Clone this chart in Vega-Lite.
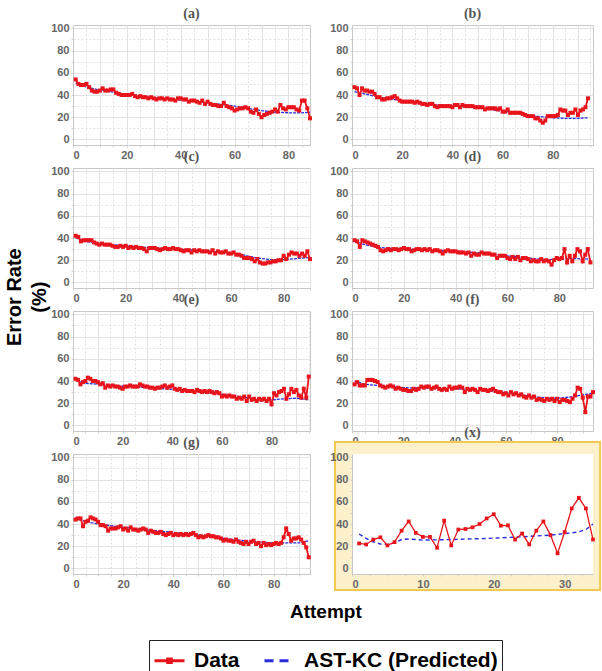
{
"$schema": "https://vega.github.io/schema/vega-lite/v6.json",
"background": "white",
"padding": {"left": 5, "top": 6, "right": 0, "bottom": 0},
"title": {"text": ["Error Rate", "(%)"], "orient": "left", "anchor": "middle", "dx": 44, "font": "Liberation Sans", "fontSize": 20, "fontWeight": "bold", "color": "black", "lineHeight": 25, "offset": 0},
"vconcat": [{
"title": {"text": "Attempt", "orient": "bottom", "anchor": "middle", "font": "Liberation Sans", "fontSize": 19, "fontWeight": "bold", "color": "black", "offset": 11},
"columns": 2,
"bounds": "flush",
"spacing": {"row": 23, "column": 42},
"concat": [
{"title": "(a)", "width": 237, "height": 120, "layer": [
 {"data": {"name": "a_pred"}, "mark": {"type": "line", "strokeWidth": 1.3, "strokeDash": [3, 1]},
  "encoding": {
   "x": {"field": "attempt", "type": "quantitative", "scale": {"domain": [0, 88], "nice": false, "zero": false}, "axis": {"title": null, "tickCount": 100, "values": [0,5,10,15,20,25,30,35,40,45,50,55,60,65,70,75,80,85], "labelExpr": "datum.value % 20 === 0 ? datum.label : ''", "gridDash": {"condition": {"test": "datum.value % 10 !== 0", "value": [2, 2]}, "value": []}}},
   "y": {"field": "rate", "type": "quantitative", "scale": {"domain": [-5, 103], "nice": false, "zero": false}, "axis": {"title": null, "tickCount": 100, "values": [0,10,20,30,40,50,60,70,80,90,100], "labelExpr": "datum.value % 20 === 0 ? datum.label : ''", "gridDash": {"condition": {"test": "datum.value % 20 !== 0", "value": [2, 2]}, "value": []}}},
   "color": {"datum": "AST-KC (Predicted)", "scale": {"domain": ["Data", "AST-KC (Predicted)"], "range": ["#e8141c", "#2b2bdb"]},
    "legend": {"title": null, "orient": "bottom", "direction": "horizontal", "strokeColor": "#222", "padding": 4, "offset": 18, "labelFont": "Liberation Sans", "labelFontSize": 21, "labelFontWeight": "bold", "labelColor": "black", "labelLimit": 400, "symbolType": "stroke", "symbolSize": 900, "symbolStrokeWidth": 3, "columnPadding": 18, "labelOffset": 8,
     "encode": {"symbols": {"update": {"shape": {"signal": "datum.value === 'Data' ? 'M-1,0H1M-0.12,-0.12H0.12V0.12H-0.12Z' : 'stroke'"}, "fill": {"signal": "datum.value === 'Data' ? '#e8141c' : 'transparent'"}, "strokeDash": {"signal": "datum.value === 'Data' ? [] : [9, 6]"}}}}}}}},
 {"data": {"name": "a_data"}, "mark": {"type": "line", "strokeWidth": 1.8, "point": {"shape": "square", "size": 16, "filled": true}},
  "encoding": {"x": {"field": "attempt", "type": "quantitative"}, "y": {"field": "rate", "type": "quantitative"}, "color": {"datum": "Data", "scale": {"domain": ["Data", "AST-KC (Predicted)"], "range": ["#e8141c", "#2b2bdb"]}}}}
]},
{"title": "(b)", "width": 241, "height": 120, "layer": [
 {"data": {"name": "b_pred"}, "mark": {"type": "line", "strokeWidth": 1.3, "strokeDash": [3, 1]},
  "encoding": {
   "x": {"field": "attempt", "type": "quantitative", "scale": {"domain": [0, 96], "nice": false, "zero": false}, "axis": {"title": null, "tickCount": 100, "values": [0,5,10,15,20,25,30,35,40,45,50,55,60,65,70,75,80,85,90,95], "labelExpr": "datum.value % 20 === 0 ? datum.label : ''", "gridDash": {"condition": {"test": "datum.value % 10 !== 0", "value": [2, 2]}, "value": []}}},
   "y": {"field": "rate", "type": "quantitative", "scale": {"domain": [-5, 103], "nice": false, "zero": false}, "axis": {"title": null, "tickCount": 100, "values": [0,10,20,30,40,50,60,70,80,90,100], "labelExpr": "datum.value % 20 === 0 ? datum.label : ''", "gridDash": {"condition": {"test": "datum.value % 20 !== 0", "value": [2, 2]}, "value": []}}},
   "color": {"datum": "AST-KC (Predicted)", "scale": {"domain": ["Data", "AST-KC (Predicted)"], "range": ["#e8141c", "#2b2bdb"]}}}},
 {"data": {"name": "b_data"}, "mark": {"type": "line", "strokeWidth": 1.8, "point": {"shape": "square", "size": 16, "filled": true}},
  "encoding": {"x": {"field": "attempt", "type": "quantitative"}, "y": {"field": "rate", "type": "quantitative"}, "color": {"datum": "Data", "scale": {"domain": ["Data", "AST-KC (Predicted)"], "range": ["#e8141c", "#2b2bdb"]}}}}
]},
{"title": "(c)", "width": 237, "height": 120, "layer": [
 {"data": {"name": "c_pred"}, "mark": {"type": "line", "strokeWidth": 1.3, "strokeDash": [3, 1]},
  "encoding": {
   "x": {"field": "attempt", "type": "quantitative", "scale": {"domain": [0, 90], "nice": false, "zero": false}, "axis": {"title": null, "tickCount": 100, "values": [0,5,10,15,20,25,30,35,40,45,50,55,60,65,70,75,80,85,90], "labelExpr": "datum.value % 20 === 0 ? datum.label : ''", "gridDash": {"condition": {"test": "datum.value % 10 !== 0", "value": [2, 2]}, "value": []}}},
   "y": {"field": "rate", "type": "quantitative", "scale": {"domain": [-5, 103], "nice": false, "zero": false}, "axis": {"title": null, "tickCount": 100, "values": [0,10,20,30,40,50,60,70,80,90,100], "labelExpr": "datum.value % 20 === 0 ? datum.label : ''", "gridDash": {"condition": {"test": "datum.value % 20 !== 0", "value": [2, 2]}, "value": []}}},
   "color": {"datum": "AST-KC (Predicted)", "scale": {"domain": ["Data", "AST-KC (Predicted)"], "range": ["#e8141c", "#2b2bdb"]}}}},
 {"data": {"name": "c_data"}, "mark": {"type": "line", "strokeWidth": 1.8, "point": {"shape": "square", "size": 16, "filled": true}},
  "encoding": {"x": {"field": "attempt", "type": "quantitative"}, "y": {"field": "rate", "type": "quantitative"}, "color": {"datum": "Data", "scale": {"domain": ["Data", "AST-KC (Predicted)"], "range": ["#e8141c", "#2b2bdb"]}}}}
]},
{"title": "(d)", "width": 241, "height": 120, "layer": [
 {"data": {"name": "d_pred"}, "mark": {"type": "line", "strokeWidth": 1.3, "strokeDash": [3, 1]},
  "encoding": {
   "x": {"field": "attempt", "type": "quantitative", "scale": {"domain": [0, 93], "nice": false, "zero": false}, "axis": {"title": null, "tickCount": 100, "values": [0,5,10,15,20,25,30,35,40,45,50,55,60,65,70,75,80,85,90], "labelExpr": "datum.value % 20 === 0 ? datum.label : ''", "gridDash": {"condition": {"test": "datum.value % 10 !== 0", "value": [2, 2]}, "value": []}}},
   "y": {"field": "rate", "type": "quantitative", "scale": {"domain": [-5, 103], "nice": false, "zero": false}, "axis": {"title": null, "tickCount": 100, "values": [0,10,20,30,40,50,60,70,80,90,100], "labelExpr": "datum.value % 20 === 0 ? datum.label : ''", "gridDash": {"condition": {"test": "datum.value % 20 !== 0", "value": [2, 2]}, "value": []}}},
   "color": {"datum": "AST-KC (Predicted)", "scale": {"domain": ["Data", "AST-KC (Predicted)"], "range": ["#e8141c", "#2b2bdb"]}}}},
 {"data": {"name": "d_data"}, "mark": {"type": "line", "strokeWidth": 1.8, "point": {"shape": "square", "size": 16, "filled": true}},
  "encoding": {"x": {"field": "attempt", "type": "quantitative"}, "y": {"field": "rate", "type": "quantitative"}, "color": {"datum": "Data", "scale": {"domain": ["Data", "AST-KC (Predicted)"], "range": ["#e8141c", "#2b2bdb"]}}}}
]},
{"title": "(e)", "width": 237, "height": 120, "layer": [
 {"data": {"name": "e_pred"}, "mark": {"type": "line", "strokeWidth": 1.3, "strokeDash": [3, 1]},
  "encoding": {
   "x": {"field": "attempt", "type": "quantitative", "scale": {"domain": [0, 95.5], "nice": false, "zero": false}, "axis": {"title": null, "tickCount": 100, "values": [0,5,10,15,20,25,30,35,40,45,50,55,60,65,70,75,80,85,90,95], "labelExpr": "datum.value % 20 === 0 ? datum.label : ''", "gridDash": {"condition": {"test": "datum.value % 10 !== 0", "value": [2, 2]}, "value": []}}},
   "y": {"field": "rate", "type": "quantitative", "scale": {"domain": [-5, 103], "nice": false, "zero": false}, "axis": {"title": null, "tickCount": 100, "values": [0,10,20,30,40,50,60,70,80,90,100], "labelExpr": "datum.value % 20 === 0 ? datum.label : ''", "gridDash": {"condition": {"test": "datum.value % 20 !== 0", "value": [2, 2]}, "value": []}}},
   "color": {"datum": "AST-KC (Predicted)", "scale": {"domain": ["Data", "AST-KC (Predicted)"], "range": ["#e8141c", "#2b2bdb"]}}}},
 {"data": {"name": "e_data"}, "mark": {"type": "line", "strokeWidth": 1.8, "point": {"shape": "square", "size": 16, "filled": true}},
  "encoding": {"x": {"field": "attempt", "type": "quantitative"}, "y": {"field": "rate", "type": "quantitative"}, "color": {"datum": "Data", "scale": {"domain": ["Data", "AST-KC (Predicted)"], "range": ["#e8141c", "#2b2bdb"]}}}}
]},
{"title": "(f)", "width": 241, "height": 120, "layer": [
 {"data": {"name": "f_pred"}, "mark": {"type": "line", "strokeWidth": 1.3, "strokeDash": [3, 1]},
  "encoding": {
   "x": {"field": "attempt", "type": "quantitative", "scale": {"domain": [0, 94], "nice": false, "zero": false}, "axis": {"title": null, "tickCount": 100, "values": [0,5,10,15,20,25,30,35,40,45,50,55,60,65,70,75,80,85,90], "labelExpr": "datum.value % 20 === 0 ? datum.label : ''", "gridDash": {"condition": {"test": "datum.value % 10 !== 0", "value": [2, 2]}, "value": []}}},
   "y": {"field": "rate", "type": "quantitative", "scale": {"domain": [-5, 103], "nice": false, "zero": false}, "axis": {"title": null, "tickCount": 100, "values": [0,10,20,30,40,50,60,70,80,90,100], "labelExpr": "datum.value % 20 === 0 ? datum.label : ''", "gridDash": {"condition": {"test": "datum.value % 20 !== 0", "value": [2, 2]}, "value": []}}},
   "color": {"datum": "AST-KC (Predicted)", "scale": {"domain": ["Data", "AST-KC (Predicted)"], "range": ["#e8141c", "#2b2bdb"]}}}},
 {"data": {"name": "f_data"}, "mark": {"type": "line", "strokeWidth": 1.8, "point": {"shape": "square", "size": 16, "filled": true}},
  "encoding": {"x": {"field": "attempt", "type": "quantitative"}, "y": {"field": "rate", "type": "quantitative"}, "color": {"datum": "Data", "scale": {"domain": ["Data", "AST-KC (Predicted)"], "range": ["#e8141c", "#2b2bdb"]}}}}
]},
{"title": "(g)", "width": 237, "height": 120, "layer": [
 {"data": {"name": "g_pred"}, "mark": {"type": "line", "strokeWidth": 1.3, "strokeDash": [3, 1]},
  "encoding": {
   "x": {"field": "attempt", "type": "quantitative", "scale": {"domain": [0, 94.5], "nice": false, "zero": false}, "axis": {"title": null, "tickCount": 100, "values": [0,5,10,15,20,25,30,35,40,45,50,55,60,65,70,75,80,85,90], "labelExpr": "datum.value % 20 === 0 ? datum.label : ''", "gridDash": {"condition": {"test": "datum.value % 10 !== 0", "value": [2, 2]}, "value": []}}},
   "y": {"field": "rate", "type": "quantitative", "scale": {"domain": [-5, 103], "nice": false, "zero": false}, "axis": {"title": null, "tickCount": 100, "values": [0,10,20,30,40,50,60,70,80,90,100], "labelExpr": "datum.value % 20 === 0 ? datum.label : ''", "gridDash": {"condition": {"test": "datum.value % 20 !== 0", "value": [2, 2]}, "value": []}}},
   "color": {"datum": "AST-KC (Predicted)", "scale": {"domain": ["Data", "AST-KC (Predicted)"], "range": ["#e8141c", "#2b2bdb"]}}}},
 {"data": {"name": "g_data"}, "mark": {"type": "line", "strokeWidth": 1.8, "point": {"shape": "square", "size": 16, "filled": true}},
  "encoding": {"x": {"field": "attempt", "type": "quantitative"}, "y": {"field": "rate", "type": "quantitative"}, "color": {"datum": "Data", "scale": {"domain": ["Data", "AST-KC (Predicted)"], "range": ["#e8141c", "#2b2bdb"]}}}}
]},
{"title": "(x)", "width": 241, "height": 120, "layer": [
 {"data": {"values": [{}]}, "mark": {"type": "rect", "fill": "#fdf1cd", "stroke": "#f3c94f", "strokeWidth": 2},
  "encoding": {
   "x": {"datum": -2.4, "type": "quantitative", "scale": {"domain": [0, 34], "nice": false, "zero": false}, "axis": {"title": null, "zindex": 1, "tickCount": 100, "format": "d", "values": [0,2.5,5,7.5,10,12.5,15,17.5,20,22.5,25,27.5,30,32.5], "labelExpr": "datum.value % 10 === 0 ? datum.label : ''", "gridDash": {"condition": {"test": "datum.value % 5 !== 0", "value": [2, 2]}, "value": []}}},
   "x2": {"datum": 35},
   "y": {"datum": -19.4, "type": "quantitative", "scale": {"domain": [-5, 103], "nice": false, "zero": false}, "axis": {"title": null, "zindex": 1, "tickCount": 100, "values": [0,10,20,30,40,50,60,70,80,90,100], "labelExpr": "datum.value % 20 === 0 ? datum.label : ''", "gridDash": {"condition": {"test": "datum.value % 20 !== 0", "value": [2, 2]}, "value": []}}},
   "y2": {"datum": 113.8}}},
 {"data": {"values": [{}]}, "mark": {"type": "rect", "fill": "white"},
  "encoding": {"x": {"datum": 0, "type": "quantitative"}, "x2": {"datum": 34}, "y": {"datum": -5, "type": "quantitative"}, "y2": {"datum": 103}}},
 {"data": {"name": "x_pred"}, "mark": {"type": "line", "strokeWidth": 1.4, "strokeDash": [4, 3]},
  "encoding": {"x": {"field": "attempt", "type": "quantitative"}, "y": {"field": "rate", "type": "quantitative"}, "color": {"datum": "AST-KC (Predicted)", "scale": {"domain": ["Data", "AST-KC (Predicted)"], "range": ["#e8141c", "#2b2bdb"]}}}},
 {"data": {"name": "x_data"}, "mark": {"type": "line", "strokeWidth": 1.3, "point": {"shape": "square", "size": 14, "filled": true}},
  "encoding": {"x": {"field": "attempt", "type": "quantitative"}, "y": {"field": "rate", "type": "quantitative"}, "color": {"datum": "Data", "scale": {"domain": ["Data", "AST-KC (Predicted)"], "range": ["#e8141c", "#2b2bdb"]}}}}
]}
]
}],
"datasets": {
"a_data": [{"attempt":1,"rate":54},{"attempt":2,"rate":50},{"attempt":3,"rate":49},{"attempt":4,"rate":49},{"attempt":5,"rate":50},{"attempt":6,"rate":47},{"attempt":7,"rate":44},{"attempt":8,"rate":43},{"attempt":9,"rate":43},{"attempt":10,"rate":44},{"attempt":11,"rate":46},{"attempt":12,"rate":44},{"attempt":13,"rate":44},{"attempt":14,"rate":45},{"attempt":15,"rate":45},{"attempt":16,"rate":42},{"attempt":17,"rate":41},{"attempt":18,"rate":40},{"attempt":19,"rate":40},{"attempt":20,"rate":40},{"attempt":21,"rate":40},{"attempt":22,"rate":41},{"attempt":23,"rate":39},{"attempt":24,"rate":38},{"attempt":25,"rate":39},{"attempt":26,"rate":38},{"attempt":27,"rate":38},{"attempt":28,"rate":37},{"attempt":29,"rate":38},{"attempt":30,"rate":37},{"attempt":31,"rate":36},{"attempt":32,"rate":37},{"attempt":33,"rate":37},{"attempt":34,"rate":36},{"attempt":35,"rate":37},{"attempt":36,"rate":36},{"attempt":37,"rate":36},{"attempt":38,"rate":35},{"attempt":39,"rate":37},{"attempt":40,"rate":37},{"attempt":41,"rate":36},{"attempt":42,"rate":36},{"attempt":43,"rate":34},{"attempt":44,"rate":35},{"attempt":45,"rate":35},{"attempt":46,"rate":34},{"attempt":47,"rate":33},{"attempt":48,"rate":35},{"attempt":49,"rate":32},{"attempt":50,"rate":34},{"attempt":51,"rate":32},{"attempt":52,"rate":31},{"attempt":53,"rate":31},{"attempt":54,"rate":30},{"attempt":55,"rate":30},{"attempt":56,"rate":33},{"attempt":57,"rate":30},{"attempt":58,"rate":29},{"attempt":59,"rate":28},{"attempt":60,"rate":26},{"attempt":61,"rate":27},{"attempt":62,"rate":28},{"attempt":63,"rate":28},{"attempt":64,"rate":29},{"attempt":65,"rate":28},{"attempt":66,"rate":25},{"attempt":67,"rate":24},{"attempt":68,"rate":27},{"attempt":69,"rate":23},{"attempt":70,"rate":20},{"attempt":71,"rate":22},{"attempt":72,"rate":23},{"attempt":73,"rate":24},{"attempt":74,"rate":25},{"attempt":75,"rate":27},{"attempt":76,"rate":25},{"attempt":77,"rate":31},{"attempt":78,"rate":28},{"attempt":79,"rate":27},{"attempt":80,"rate":29},{"attempt":81,"rate":29},{"attempt":82,"rate":29},{"attempt":83,"rate":27},{"attempt":84,"rate":26},{"attempt":85,"rate":35},{"attempt":86,"rate":35},{"attempt":87,"rate":28},{"attempt":88,"rate":19}],
"a_pred": [{"attempt":1,"rate":51},{"attempt":5,"rate":47},{"attempt":10,"rate":44.5},{"attempt":15,"rate":42.5},{"attempt":20,"rate":40.5},{"attempt":25,"rate":39},{"attempt":30,"rate":37.5},{"attempt":35,"rate":36.5},{"attempt":40,"rate":35.5},{"attempt":45,"rate":34.5},{"attempt":50,"rate":33},{"attempt":55,"rate":31.5},{"attempt":60,"rate":30},{"attempt":65,"rate":28},{"attempt":70,"rate":26},{"attempt":75,"rate":24.5},{"attempt":80,"rate":24},{"attempt":85,"rate":24},{"attempt":88,"rate":24.5}],
"b_data": [{"attempt":1,"rate":47},{"attempt":2,"rate":46},{"attempt":3,"rate":40},{"attempt":4,"rate":46},{"attempt":5,"rate":44},{"attempt":6,"rate":44},{"attempt":7,"rate":43},{"attempt":8,"rate":43},{"attempt":9,"rate":41},{"attempt":10,"rate":38},{"attempt":11,"rate":38},{"attempt":12,"rate":36},{"attempt":13,"rate":36},{"attempt":14,"rate":37},{"attempt":15,"rate":37},{"attempt":16,"rate":38},{"attempt":17,"rate":39},{"attempt":18,"rate":37},{"attempt":19,"rate":35},{"attempt":20,"rate":34},{"attempt":21,"rate":34},{"attempt":22,"rate":34},{"attempt":23,"rate":34},{"attempt":24,"rate":34},{"attempt":25,"rate":33},{"attempt":26,"rate":34},{"attempt":27,"rate":33},{"attempt":28,"rate":32},{"attempt":29,"rate":32},{"attempt":30,"rate":31},{"attempt":31,"rate":32},{"attempt":32,"rate":32},{"attempt":33,"rate":30},{"attempt":34,"rate":29},{"attempt":35,"rate":30},{"attempt":36,"rate":30},{"attempt":37,"rate":30},{"attempt":38,"rate":30},{"attempt":39,"rate":30},{"attempt":40,"rate":29},{"attempt":41,"rate":31},{"attempt":42,"rate":31},{"attempt":43,"rate":29},{"attempt":44,"rate":31},{"attempt":45,"rate":30},{"attempt":46,"rate":30},{"attempt":47,"rate":30},{"attempt":48,"rate":30},{"attempt":49,"rate":29},{"attempt":50,"rate":29},{"attempt":51,"rate":29},{"attempt":52,"rate":29},{"attempt":53,"rate":27},{"attempt":54,"rate":28},{"attempt":55,"rate":28},{"attempt":56,"rate":28},{"attempt":57,"rate":28},{"attempt":58,"rate":27},{"attempt":59,"rate":28},{"attempt":60,"rate":25},{"attempt":61,"rate":25},{"attempt":62,"rate":27},{"attempt":63,"rate":24},{"attempt":64,"rate":24},{"attempt":65,"rate":24},{"attempt":66,"rate":24},{"attempt":67,"rate":24},{"attempt":68,"rate":23},{"attempt":69,"rate":22},{"attempt":70,"rate":21},{"attempt":71,"rate":21},{"attempt":72,"rate":21},{"attempt":73,"rate":19},{"attempt":74,"rate":19},{"attempt":75,"rate":17},{"attempt":76,"rate":15},{"attempt":77,"rate":17},{"attempt":78,"rate":21},{"attempt":79,"rate":21},{"attempt":80,"rate":21},{"attempt":81,"rate":21},{"attempt":82,"rate":22},{"attempt":83,"rate":27},{"attempt":84,"rate":26},{"attempt":85,"rate":26},{"attempt":86,"rate":22},{"attempt":87,"rate":24},{"attempt":88,"rate":24},{"attempt":89,"rate":27},{"attempt":90,"rate":22},{"attempt":91,"rate":26},{"attempt":92,"rate":27},{"attempt":93,"rate":29},{"attempt":94,"rate":37}],
"b_pred": [{"attempt":1,"rate":43},{"attempt":5,"rate":41},{"attempt":10,"rate":38.5},{"attempt":15,"rate":36.5},{"attempt":20,"rate":35},{"attempt":25,"rate":33.5},{"attempt":30,"rate":32},{"attempt":35,"rate":31},{"attempt":40,"rate":30},{"attempt":45,"rate":29.5},{"attempt":50,"rate":28.5},{"attempt":55,"rate":27},{"attempt":60,"rate":25.5},{"attempt":65,"rate":24},{"attempt":70,"rate":22},{"attempt":75,"rate":20.5},{"attempt":80,"rate":19.5},{"attempt":85,"rate":19},{"attempt":90,"rate":19},{"attempt":94,"rate":19.5}],
"c_data": [{"attempt":1,"rate":42},{"attempt":2,"rate":41},{"attempt":3,"rate":37},{"attempt":4,"rate":38},{"attempt":5,"rate":38},{"attempt":6,"rate":38},{"attempt":7,"rate":38},{"attempt":8,"rate":36},{"attempt":9,"rate":35},{"attempt":10,"rate":34},{"attempt":11,"rate":35},{"attempt":12,"rate":34},{"attempt":13,"rate":34},{"attempt":14,"rate":34},{"attempt":15,"rate":33},{"attempt":16,"rate":32},{"attempt":17,"rate":32},{"attempt":18,"rate":33},{"attempt":19,"rate":32},{"attempt":20,"rate":33},{"attempt":21,"rate":31},{"attempt":22,"rate":32},{"attempt":23,"rate":31},{"attempt":24,"rate":32},{"attempt":25,"rate":31},{"attempt":26,"rate":31},{"attempt":27,"rate":30},{"attempt":28,"rate":28},{"attempt":29,"rate":31},{"attempt":30,"rate":31},{"attempt":31,"rate":31},{"attempt":32,"rate":30},{"attempt":33,"rate":29},{"attempt":34,"rate":30},{"attempt":35,"rate":31},{"attempt":36,"rate":30},{"attempt":37,"rate":30},{"attempt":38,"rate":31},{"attempt":39,"rate":30},{"attempt":40,"rate":30},{"attempt":41,"rate":29},{"attempt":42,"rate":28},{"attempt":43,"rate":29},{"attempt":44,"rate":29},{"attempt":45,"rate":27},{"attempt":46,"rate":29},{"attempt":47,"rate":28},{"attempt":48,"rate":29},{"attempt":49,"rate":28},{"attempt":50,"rate":28},{"attempt":51,"rate":28},{"attempt":52,"rate":27},{"attempt":53,"rate":29},{"attempt":54,"rate":26},{"attempt":55,"rate":28},{"attempt":56,"rate":27},{"attempt":57,"rate":27},{"attempt":58,"rate":28},{"attempt":59,"rate":26},{"attempt":60,"rate":26},{"attempt":61,"rate":27},{"attempt":62,"rate":25},{"attempt":63,"rate":25},{"attempt":64,"rate":24},{"attempt":65,"rate":22},{"attempt":66,"rate":22},{"attempt":67,"rate":22},{"attempt":68,"rate":21},{"attempt":69,"rate":19},{"attempt":70,"rate":21},{"attempt":71,"rate":18},{"attempt":72,"rate":17},{"attempt":73,"rate":17},{"attempt":74,"rate":18},{"attempt":75,"rate":18},{"attempt":76,"rate":19},{"attempt":77,"rate":19},{"attempt":78,"rate":20},{"attempt":79,"rate":20},{"attempt":80,"rate":24},{"attempt":81,"rate":21},{"attempt":82,"rate":25},{"attempt":83,"rate":27},{"attempt":84,"rate":26},{"attempt":85,"rate":26},{"attempt":86,"rate":24},{"attempt":87,"rate":26},{"attempt":88,"rate":24},{"attempt":89,"rate":28},{"attempt":90,"rate":21}],
"c_pred": [{"attempt":1,"rate":40},{"attempt":5,"rate":37},{"attempt":10,"rate":35},{"attempt":15,"rate":34},{"attempt":20,"rate":33},{"attempt":30,"rate":31},{"attempt":40,"rate":30},{"attempt":50,"rate":28.5},{"attempt":60,"rate":26.5},{"attempt":65,"rate":24.5},{"attempt":70,"rate":22},{"attempt":75,"rate":20.5},{"attempt":80,"rate":20.5},{"attempt":85,"rate":21.5},{"attempt":90,"rate":22.5}],
"d_data": [{"attempt":1,"rate":38},{"attempt":2,"rate":37},{"attempt":3,"rate":32},{"attempt":4,"rate":38},{"attempt":5,"rate":37},{"attempt":6,"rate":36},{"attempt":7,"rate":35},{"attempt":8,"rate":34},{"attempt":9,"rate":33},{"attempt":10,"rate":32},{"attempt":11,"rate":29},{"attempt":12,"rate":28},{"attempt":13,"rate":29},{"attempt":14,"rate":30},{"attempt":15,"rate":29},{"attempt":16,"rate":30},{"attempt":17,"rate":30},{"attempt":18,"rate":29},{"attempt":19,"rate":30},{"attempt":20,"rate":31},{"attempt":21,"rate":30},{"attempt":22,"rate":30},{"attempt":23,"rate":28},{"attempt":24,"rate":29},{"attempt":25,"rate":30},{"attempt":26,"rate":30},{"attempt":27,"rate":29},{"attempt":28,"rate":30},{"attempt":29,"rate":29},{"attempt":30,"rate":30},{"attempt":31,"rate":28},{"attempt":32,"rate":29},{"attempt":33,"rate":29},{"attempt":34,"rate":28},{"attempt":35,"rate":26},{"attempt":36,"rate":28},{"attempt":37,"rate":29},{"attempt":38,"rate":28},{"attempt":39,"rate":28},{"attempt":40,"rate":28},{"attempt":41,"rate":27},{"attempt":42,"rate":27},{"attempt":43,"rate":27},{"attempt":44,"rate":26},{"attempt":45,"rate":27},{"attempt":46,"rate":24},{"attempt":47,"rate":26},{"attempt":48,"rate":25},{"attempt":49,"rate":25},{"attempt":50,"rate":27},{"attempt":51,"rate":26},{"attempt":52,"rate":26},{"attempt":53,"rate":26},{"attempt":54,"rate":25},{"attempt":55,"rate":25},{"attempt":56,"rate":22},{"attempt":57,"rate":24},{"attempt":58,"rate":24},{"attempt":59,"rate":24},{"attempt":60,"rate":22},{"attempt":61,"rate":21},{"attempt":62,"rate":23},{"attempt":63,"rate":21},{"attempt":64,"rate":23},{"attempt":65,"rate":20},{"attempt":66,"rate":22},{"attempt":67,"rate":22},{"attempt":68,"rate":21},{"attempt":69,"rate":19},{"attempt":70,"rate":20},{"attempt":71,"rate":19},{"attempt":72,"rate":19},{"attempt":73,"rate":21},{"attempt":74,"rate":19},{"attempt":75,"rate":20},{"attempt":76,"rate":19},{"attempt":77,"rate":16},{"attempt":78,"rate":20},{"attempt":79,"rate":22},{"attempt":80,"rate":21},{"attempt":81,"rate":22},{"attempt":82,"rate":30},{"attempt":83,"rate":18},{"attempt":84,"rate":24},{"attempt":85,"rate":19},{"attempt":86,"rate":24},{"attempt":87,"rate":30},{"attempt":88,"rate":28},{"attempt":89,"rate":19},{"attempt":90,"rate":25},{"attempt":91,"rate":30},{"attempt":92,"rate":18}],
"d_pred": [{"attempt":1,"rate":37},{"attempt":5,"rate":34},{"attempt":10,"rate":31.5},{"attempt":20,"rate":30},{"attempt":30,"rate":29},{"attempt":40,"rate":28},{"attempt":50,"rate":26.5},{"attempt":60,"rate":24},{"attempt":70,"rate":21.5},{"attempt":75,"rate":20.5},{"attempt":80,"rate":21},{"attempt":85,"rate":21.5},{"attempt":92,"rate":21}],
"e_data": [{"attempt":1,"rate":42},{"attempt":2,"rate":41},{"attempt":3,"rate":37},{"attempt":4,"rate":39},{"attempt":5,"rate":40},{"attempt":6,"rate":43},{"attempt":7,"rate":42},{"attempt":8,"rate":40},{"attempt":9,"rate":40},{"attempt":10,"rate":39},{"attempt":11,"rate":37},{"attempt":12,"rate":38},{"attempt":13,"rate":34},{"attempt":14,"rate":36},{"attempt":15,"rate":35},{"attempt":16,"rate":36},{"attempt":17,"rate":35},{"attempt":18,"rate":35},{"attempt":19,"rate":34},{"attempt":20,"rate":33},{"attempt":21,"rate":35},{"attempt":22,"rate":35},{"attempt":23,"rate":36},{"attempt":24,"rate":35},{"attempt":25,"rate":35},{"attempt":26,"rate":35},{"attempt":27,"rate":37},{"attempt":28,"rate":36},{"attempt":29,"rate":35},{"attempt":30,"rate":35},{"attempt":31,"rate":34},{"attempt":32,"rate":34},{"attempt":33,"rate":33},{"attempt":34,"rate":34},{"attempt":35,"rate":34},{"attempt":36,"rate":35},{"attempt":37,"rate":36},{"attempt":38,"rate":34},{"attempt":39,"rate":35},{"attempt":40,"rate":36},{"attempt":41,"rate":33},{"attempt":42,"rate":32},{"attempt":43,"rate":33},{"attempt":44,"rate":31},{"attempt":45,"rate":32},{"attempt":46,"rate":31},{"attempt":47,"rate":31},{"attempt":48,"rate":31},{"attempt":49,"rate":30},{"attempt":50,"rate":32},{"attempt":51,"rate":31},{"attempt":52,"rate":30},{"attempt":53,"rate":31},{"attempt":54,"rate":30},{"attempt":55,"rate":31},{"attempt":56,"rate":30},{"attempt":57,"rate":29},{"attempt":58,"rate":30},{"attempt":59,"rate":29},{"attempt":60,"rate":26},{"attempt":61,"rate":27},{"attempt":62,"rate":26},{"attempt":63,"rate":27},{"attempt":64,"rate":26},{"attempt":65,"rate":26},{"attempt":66,"rate":24},{"attempt":67,"rate":25},{"attempt":68,"rate":24},{"attempt":69,"rate":26},{"attempt":70,"rate":22},{"attempt":71,"rate":26},{"attempt":72,"rate":23},{"attempt":73,"rate":24},{"attempt":74,"rate":22},{"attempt":75,"rate":24},{"attempt":76,"rate":23},{"attempt":77,"rate":24},{"attempt":78,"rate":22},{"attempt":79,"rate":24},{"attempt":80,"rate":19},{"attempt":81,"rate":29},{"attempt":82,"rate":27},{"attempt":83,"rate":30},{"attempt":84,"rate":31},{"attempt":85,"rate":33},{"attempt":86,"rate":24},{"attempt":87,"rate":28},{"attempt":88,"rate":33},{"attempt":89,"rate":30},{"attempt":90,"rate":32},{"attempt":91,"rate":27},{"attempt":92,"rate":25},{"attempt":93,"rate":33},{"attempt":94,"rate":25},{"attempt":95,"rate":44}],
"e_pred": [{"attempt":1,"rate":43},{"attempt":3,"rate":39},{"attempt":5,"rate":38},{"attempt":10,"rate":37},{"attempt":20,"rate":35.5},{"attempt":30,"rate":34},{"attempt":40,"rate":32.5},{"attempt":50,"rate":30.5},{"attempt":60,"rate":28},{"attempt":70,"rate":25},{"attempt":75,"rate":24},{"attempt":80,"rate":23},{"attempt":85,"rate":24},{"attempt":90,"rate":24.5},{"attempt":95,"rate":23}],
"f_data": [{"attempt":1,"rate":37},{"attempt":2,"rate":39},{"attempt":3,"rate":36},{"attempt":4,"rate":36},{"attempt":5,"rate":36},{"attempt":6,"rate":41},{"attempt":7,"rate":41},{"attempt":8,"rate":41},{"attempt":9,"rate":40},{"attempt":10,"rate":39},{"attempt":11,"rate":36},{"attempt":12,"rate":35},{"attempt":13,"rate":34},{"attempt":14,"rate":35},{"attempt":15,"rate":36},{"attempt":16,"rate":35},{"attempt":17,"rate":33},{"attempt":18,"rate":34},{"attempt":19,"rate":33},{"attempt":20,"rate":32},{"attempt":21,"rate":32},{"attempt":22,"rate":31},{"attempt":23,"rate":31},{"attempt":24,"rate":33},{"attempt":25,"rate":32},{"attempt":26,"rate":33},{"attempt":27,"rate":35},{"attempt":28,"rate":34},{"attempt":29,"rate":35},{"attempt":30,"rate":35},{"attempt":31,"rate":33},{"attempt":32,"rate":34},{"attempt":33,"rate":35},{"attempt":34,"rate":33},{"attempt":35,"rate":32},{"attempt":36,"rate":33},{"attempt":37,"rate":32},{"attempt":38,"rate":35},{"attempt":39,"rate":33},{"attempt":40,"rate":34},{"attempt":41,"rate":34},{"attempt":42,"rate":35},{"attempt":43,"rate":34},{"attempt":44,"rate":30},{"attempt":45,"rate":33},{"attempt":46,"rate":32},{"attempt":47,"rate":33},{"attempt":48,"rate":32},{"attempt":49,"rate":30},{"attempt":50,"rate":33},{"attempt":51,"rate":32},{"attempt":52,"rate":32},{"attempt":53,"rate":31},{"attempt":54,"rate":32},{"attempt":55,"rate":33},{"attempt":56,"rate":31},{"attempt":57,"rate":30},{"attempt":58,"rate":30},{"attempt":59,"rate":28},{"attempt":60,"rate":29},{"attempt":61,"rate":27},{"attempt":62,"rate":30},{"attempt":63,"rate":28},{"attempt":64,"rate":29},{"attempt":65,"rate":27},{"attempt":66,"rate":28},{"attempt":67,"rate":26},{"attempt":68,"rate":25},{"attempt":69,"rate":27},{"attempt":70,"rate":25},{"attempt":71,"rate":26},{"attempt":72,"rate":23},{"attempt":73,"rate":24},{"attempt":74,"rate":23},{"attempt":75,"rate":22},{"attempt":76,"rate":24},{"attempt":77,"rate":23},{"attempt":78,"rate":24},{"attempt":79,"rate":22},{"attempt":80,"rate":24},{"attempt":81,"rate":21},{"attempt":82,"rate":23},{"attempt":83,"rate":23},{"attempt":84,"rate":22},{"attempt":85,"rate":21},{"attempt":86,"rate":24},{"attempt":87,"rate":27},{"attempt":88,"rate":34},{"attempt":89,"rate":33},{"attempt":90,"rate":25},{"attempt":91,"rate":12},{"attempt":92,"rate":26},{"attempt":93,"rate":26},{"attempt":94,"rate":30}],
"f_pred": [{"attempt":1,"rate":40},{"attempt":5,"rate":37},{"attempt":10,"rate":36},{"attempt":20,"rate":34},{"attempt":30,"rate":33.5},{"attempt":40,"rate":33},{"attempt":50,"rate":32},{"attempt":60,"rate":29.5},{"attempt":70,"rate":26},{"attempt":75,"rate":25},{"attempt":80,"rate":24.5},{"attempt":85,"rate":25.5},{"attempt":90,"rate":27.5},{"attempt":94,"rate":29}],
"g_data": [{"attempt":1,"rate":44},{"attempt":2,"rate":45},{"attempt":3,"rate":45},{"attempt":4,"rate":38},{"attempt":5,"rate":42},{"attempt":6,"rate":43},{"attempt":7,"rate":46},{"attempt":8,"rate":45},{"attempt":9,"rate":44},{"attempt":10,"rate":42},{"attempt":11,"rate":39},{"attempt":12,"rate":39},{"attempt":13,"rate":38},{"attempt":14,"rate":34},{"attempt":15,"rate":36},{"attempt":16,"rate":36},{"attempt":17,"rate":36},{"attempt":18,"rate":37},{"attempt":19,"rate":38},{"attempt":20,"rate":35},{"attempt":21,"rate":36},{"attempt":22,"rate":34},{"attempt":23,"rate":37},{"attempt":24,"rate":35},{"attempt":25,"rate":35},{"attempt":26,"rate":34},{"attempt":27,"rate":35},{"attempt":28,"rate":36},{"attempt":29,"rate":35},{"attempt":30,"rate":32},{"attempt":31,"rate":34},{"attempt":32,"rate":33},{"attempt":33,"rate":32},{"attempt":34,"rate":32},{"attempt":35,"rate":33},{"attempt":36,"rate":31},{"attempt":37,"rate":30},{"attempt":38,"rate":31},{"attempt":39,"rate":32},{"attempt":40,"rate":30},{"attempt":41,"rate":31},{"attempt":42,"rate":30},{"attempt":43,"rate":31},{"attempt":44,"rate":30},{"attempt":45,"rate":31},{"attempt":46,"rate":30},{"attempt":47,"rate":31},{"attempt":48,"rate":32},{"attempt":49,"rate":30},{"attempt":50,"rate":28},{"attempt":51,"rate":29},{"attempt":52,"rate":28},{"attempt":53,"rate":29},{"attempt":54,"rate":30},{"attempt":55,"rate":29},{"attempt":56,"rate":29},{"attempt":57,"rate":28},{"attempt":58,"rate":28},{"attempt":59,"rate":27},{"attempt":60,"rate":25},{"attempt":61,"rate":26},{"attempt":62,"rate":25},{"attempt":63,"rate":25},{"attempt":64,"rate":24},{"attempt":65,"rate":26},{"attempt":66,"rate":24},{"attempt":67,"rate":23},{"attempt":68,"rate":22},{"attempt":69,"rate":24},{"attempt":70,"rate":22},{"attempt":71,"rate":24},{"attempt":72,"rate":25},{"attempt":73,"rate":22},{"attempt":74,"rate":23},{"attempt":75,"rate":20},{"attempt":76,"rate":23},{"attempt":77,"rate":21},{"attempt":78,"rate":22},{"attempt":79,"rate":21},{"attempt":80,"rate":22},{"attempt":81,"rate":23},{"attempt":82,"rate":22},{"attempt":83,"rate":23},{"attempt":84,"rate":28},{"attempt":85,"rate":36},{"attempt":86,"rate":31},{"attempt":87,"rate":25},{"attempt":88,"rate":27},{"attempt":89,"rate":27},{"attempt":90,"rate":28},{"attempt":91,"rate":26},{"attempt":92,"rate":23},{"attempt":93,"rate":19},{"attempt":94,"rate":10}],
"g_pred": [{"attempt":1,"rate":46},{"attempt":3,"rate":44},{"attempt":5,"rate":42},{"attempt":10,"rate":40},{"attempt":20,"rate":37},{"attempt":30,"rate":34.5},{"attempt":40,"rate":32.5},{"attempt":50,"rate":30},{"attempt":60,"rate":27},{"attempt":70,"rate":24.5},{"attempt":80,"rate":23},{"attempt":85,"rate":23},{"attempt":90,"rate":23},{"attempt":94,"rate":25}],
"x_data": [{"attempt":1,"rate":22.5},{"attempt":2,"rate":21.6},{"attempt":3,"rate":26},{"attempt":4,"rate":28},{"attempt":5,"rate":20.7},{"attempt":6,"rate":23.7},{"attempt":7,"rate":34},{"attempt":8,"rate":42.3},{"attempt":9,"rate":32},{"attempt":10,"rate":28.4},{"attempt":11,"rate":28.4},{"attempt":12,"rate":18.6},{"attempt":13,"rate":43},{"attempt":14,"rate":20.7},{"attempt":15,"rate":35},{"attempt":16,"rate":35.5},{"attempt":17,"rate":37},{"attempt":18,"rate":40},{"attempt":19,"rate":45},{"attempt":20,"rate":48.8},{"attempt":21,"rate":38.5},{"attempt":22,"rate":38.8},{"attempt":23,"rate":26},{"attempt":24,"rate":31.4},{"attempt":25,"rate":21.6},{"attempt":26,"rate":34},{"attempt":27,"rate":42.3},{"attempt":28,"rate":30},{"attempt":29,"rate":13.6},{"attempt":30,"rate":32.8},{"attempt":31,"rate":54},{"attempt":32,"rate":63.6},{"attempt":33,"rate":54},{"attempt":34,"rate":26}],
"x_pred": [{"attempt":1,"rate":31},{"attempt":2,"rate":27},{"attempt":3,"rate":24},{"attempt":4,"rate":22},{"attempt":5,"rate":21.5},{"attempt":6,"rate":23},{"attempt":7,"rate":26},{"attempt":8,"rate":26.5},{"attempt":10,"rate":25.5},{"attempt":14,"rate":26},{"attempt":19,"rate":27},{"attempt":24,"rate":28.5},{"attempt":28,"rate":30},{"attempt":31,"rate":32},{"attempt":32,"rate":33},{"attempt":33,"rate":35},{"attempt":34,"rate":40}]
},
"config": {
 "axis": {"labelFont": "Liberation Sans", "labelFontWeight": "bold", "labelFontSize": 11, "labelColor": "#666", "labelOverlap": false, "domainColor": "#c8c8c8", "gridColor": "#e2e2e2", "tickColor": "#d0d0d0", "tickSize": 2, "labelPadding": 2},
 "view": {"stroke": "#c8c8c8"},
 "title": {"font": "Liberation Serif", "fontSize": 14, "fontWeight": "bold", "color": "#555", "offset": 1},
 "legend": {"layout": {"bottom": {"anchor": "middle"}}}
}
}
